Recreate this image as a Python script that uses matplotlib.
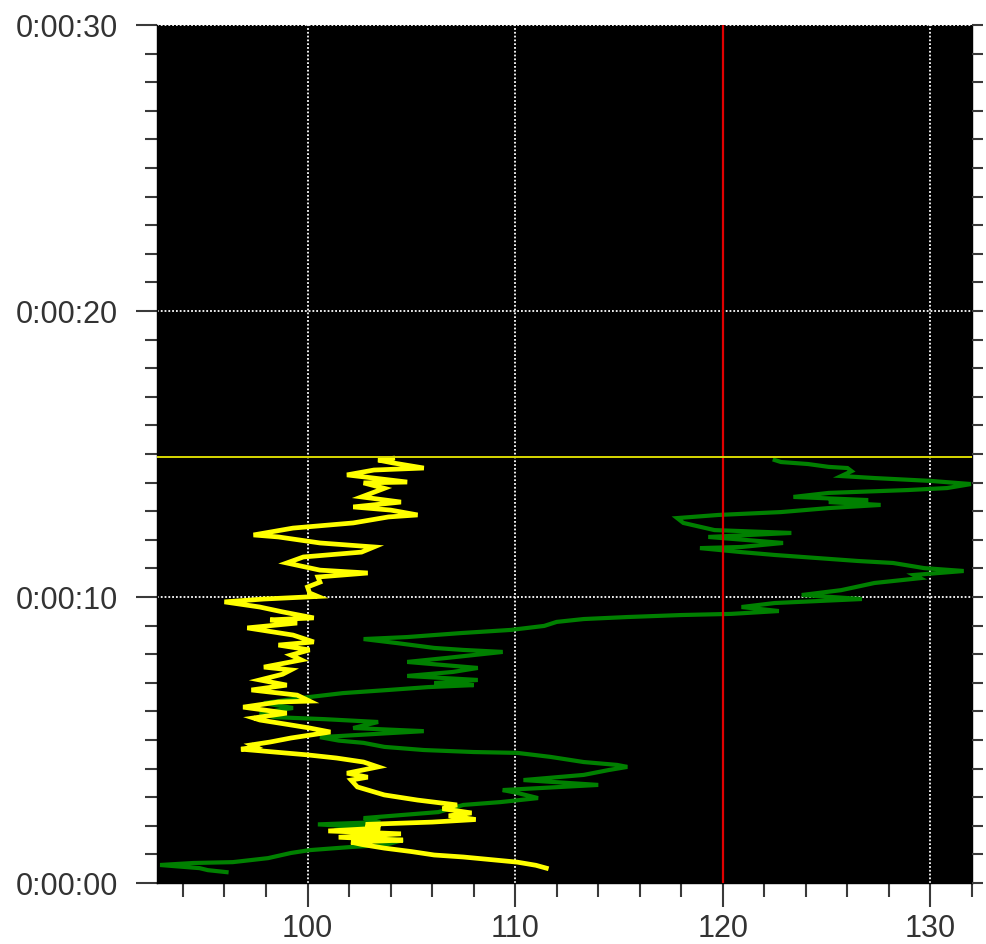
import numpy as np
import matplotlib
matplotlib.use("Agg")
import matplotlib.pyplot as plt
from matplotlib.ticker import MultipleLocator, FuncFormatter

plt.rcParams.update({
    "font.family": ["Liberation Sans", "DejaVu Sans"],
})

# yellow trace: time (s) and value
YELLOW_T = [0.52, 0.62, 0.73, 0.91, 0.98, 1.10, 1.22, 1.35, 1.43, 1.50, 1.60, 1.72,
            1.82, 1.92, 2.05, 2.13, 2.22, 2.35, 2.45, 2.60, 2.73, 2.90, 3.08, 3.36,
            3.60, 3.70, 3.84, 4.06, 4.23, 4.37, 4.48, 4.58, 4.68, 4.76, 4.83, 4.93,
            5.07, 5.28, 5.42, 5.55, 5.70, 5.77, 5.94, 6.15, 6.33, 6.36, 6.57, 6.75,
            6.92, 7.10, 7.30, 7.45, 7.55, 7.80, 7.97, 8.15, 8.32, 8.43, 8.67, 8.92,
            9.09, 9.20, 9.27, 9.48, 9.65, 9.83, 9.93, 10.02, 10.14, 10.35, 10.52,
            10.70, 10.84, 10.94, 11.19, 11.40, 11.57, 11.75, 11.89, 12.10, 12.17,
            12.41, 12.59, 12.80, 12.87, 13.04, 13.15, 13.32, 13.50, 13.80, 13.99,
            14.02, 14.27, 14.44, 14.51, 14.69, 14.79, 14.85]
YELLOW_V = [111.5, 111.0, 110.1, 107.5, 106.1, 105.0, 103.7, 102.6, 102.1, 104.6, 101.5, 104.5,
            101.0, 103.5, 102.8, 106.0, 108.1, 106.8, 107.9, 106.5, 107.2, 105.3, 103.7, 102.4,
            102.1, 102.9, 101.9, 103.4, 102.7, 101.4, 100.0, 98.4, 96.8, 97.5, 97.3, 98.2,
            99.2, 101.1, 100.1, 99.0, 97.7, 97.4, 99.0, 96.9, 98.6, 100.1, 99.5, 97.3,
            99.0, 97.7, 98.8, 99.2, 97.9, 99.7, 99.2, 100.1, 98.6, 100.3, 99.3, 97.1,
            99.5, 98.2, 100.3, 98.8, 97.7, 96.0, 97.9, 100.5, 100.1, 100.0, 100.6,
            100.5, 102.9, 100.6, 99.0, 99.8, 102.6, 103.2, 100.6, 98.6, 97.4,
            99.3, 102.2, 103.9, 105.3, 104.0, 102.2, 104.5, 102.6, 103.7, 102.7,
            104.8, 101.9, 103.2, 105.6, 104.1, 103.4, 104.1]

# green trace
GREEN_T = [0.38, 0.45, 0.52, 0.63, 0.70, 0.73, 0.87, 1.05, 1.15, 1.26, 1.33, 1.50,
           1.61, 1.72, 1.85, 1.95, 2.05, 2.13, 2.27, 2.48, 2.73, 2.83, 2.97, 3.15,
           3.25, 3.43, 3.60, 3.78, 3.95, 4.06, 4.13, 4.23, 4.41, 4.55, 4.58, 4.65,
           4.76, 4.90, 4.98, 5.10, 5.31, 5.42, 5.63, 5.73, 5.80, 5.94, 6.12, 6.29,
           6.47, 6.64, 6.75, 6.85, 6.92, 6.99, 7.10, 7.24, 7.38, 7.52, 7.73, 7.87,
           8.08, 8.15, 8.22, 8.39, 8.53, 8.60, 8.74, 8.85, 8.99, 9.13, 9.23, 9.30,
           9.37, 9.41, 9.51, 9.65, 9.79, 9.93, 10.07, 10.24, 10.49, 10.66, 10.77,
           10.91, 11.01, 11.19, 11.26, 11.36, 11.47, 11.57, 11.71, 11.75, 11.89,
           12.10, 12.24, 12.34, 12.59, 12.76, 12.87, 12.97, 13.11, 13.22, 13.32,
           13.39, 13.50, 13.64, 13.74, 13.81, 13.95, 14.06, 14.16, 14.23, 14.40,
           14.51, 14.55, 14.65, 14.72, 14.79]
GREEN_V = [96.1, 95.2, 94.8, 92.9, 94.5, 96.4, 98.1, 99.2, 100.1, 102.1, 103.7, 104.6,
           102.1, 103.7, 101.3, 103.0, 100.5, 103.5, 102.7, 106.3, 107.5, 109.3, 111.1, 110.1,
           109.4, 114.0, 110.4, 113.3, 114.5, 115.4, 114.9, 113.3, 111.7, 110.1, 108.0, 105.6,
           103.7, 102.7, 101.5, 100.6, 105.6, 102.2, 103.4, 100.8, 98.4, 97.7, 99.3, 97.9,
           99.7, 101.7, 103.9, 105.8, 108.0, 106.1, 108.2, 104.8, 107.0, 108.2, 104.8, 106.7,
           109.4, 107.5, 106.1, 104.3, 102.7, 104.8, 107.4, 109.8, 111.4, 112.0, 113.3, 115.4,
           118.0, 120.4, 122.7, 120.9, 122.5, 126.7, 123.8, 125.7, 127.3, 129.5, 129.2,
           131.6, 129.7, 128.2, 126.5, 124.6, 122.5, 120.9, 118.9, 120.9, 122.9,
           119.3, 123.3, 119.6, 118.1, 117.8, 119.8, 122.8, 125.1, 127.6, 125.1,
           127.0, 123.4, 125.1, 128.9, 130.8, 131.95, 130.0, 127.3, 125.7, 126.2,
           126.0, 125.1, 124.1, 122.8, 122.5]

LIMIT_VALUE = 120      # red vertical marker
CURRENT_TIME = 14.88   # yellow horizontal marker
TIME_GRID = [10, 20, 30]


def hms(sec, pos=None):
    sec = int(round(sec))
    return f"{sec // 3600}:{(sec % 3600) // 60:02d}:{sec % 60:02d}"


fig = plt.figure(figsize=(9.86, 9.44), dpi=100)
ax = fig.add_axes([0.1592, 0.0646, 0.8266, 0.9089])
ax.set_facecolor("black")

ax.set_xlim(92.75, 132)
ax.set_ylim(0, 30)

ax.xaxis.set_major_locator(MultipleLocator(10))
ax.xaxis.set_minor_locator(MultipleLocator(2))
ax.yaxis.set_major_locator(MultipleLocator(10))
ax.yaxis.set_minor_locator(MultipleLocator(1))
ax.yaxis.set_major_formatter(FuncFormatter(hms))

grid_kw = dict(color="white", linestyle=(0, (1, 1.1)), linewidth=1.3, zorder=1)
ax.grid(axis="x", which="major", **grid_kw)
for t in TIME_GRID:
    ax.axhline(t, clip_on=False, **grid_kw)

ax.plot(GREEN_V, GREEN_T, color="#008000", linewidth=3.0, zorder=3,
        solid_joinstyle="miter")
ax.plot(YELLOW_V, YELLOW_T, color="#ffff00", linewidth=3.4, zorder=4,
        solid_joinstyle="miter")

ax.axvline(LIMIT_VALUE, color="#e00000", linewidth=1.6, zorder=5)
ax.axhline(CURRENT_TIME, color="#d8d800", linewidth=1.4, zorder=5)

tick_col = "#3a3a3a"
ax.tick_params(axis="both", which="both", direction="out", colors=tick_col,
               width=1.5, labelsize=22, labelcolor="#333333")
ax.tick_params(axis="y", which="major", length=15, pad=13)
ax.tick_params(axis="y", which="minor", length=9)
ax.tick_params(axis="x", which="major", length=17, pad=5)
ax.tick_params(axis="x", which="minor", length=10)

for side in ["left", "bottom", "right", "top"]:
    ax.spines[side].set_color("black")
    ax.spines[side].set_linewidth(1.0)
ax.spines["top"].set_visible(False)

# short ticks on the right side, no labels
ax2 = ax.twinx()
ax2.set_ylim(ax.get_ylim())
ax2.yaxis.set_major_locator(MultipleLocator(1))
ax2.tick_params(axis="y", which="major", direction="out", length=8, width=1.5,
                colors=tick_col, labelright=False)
for side in ["left", "bottom", "right", "top"]:
    ax2.spines[side].set_visible(False)

fig.savefig("out.png", dpi=100, facecolor="white")
